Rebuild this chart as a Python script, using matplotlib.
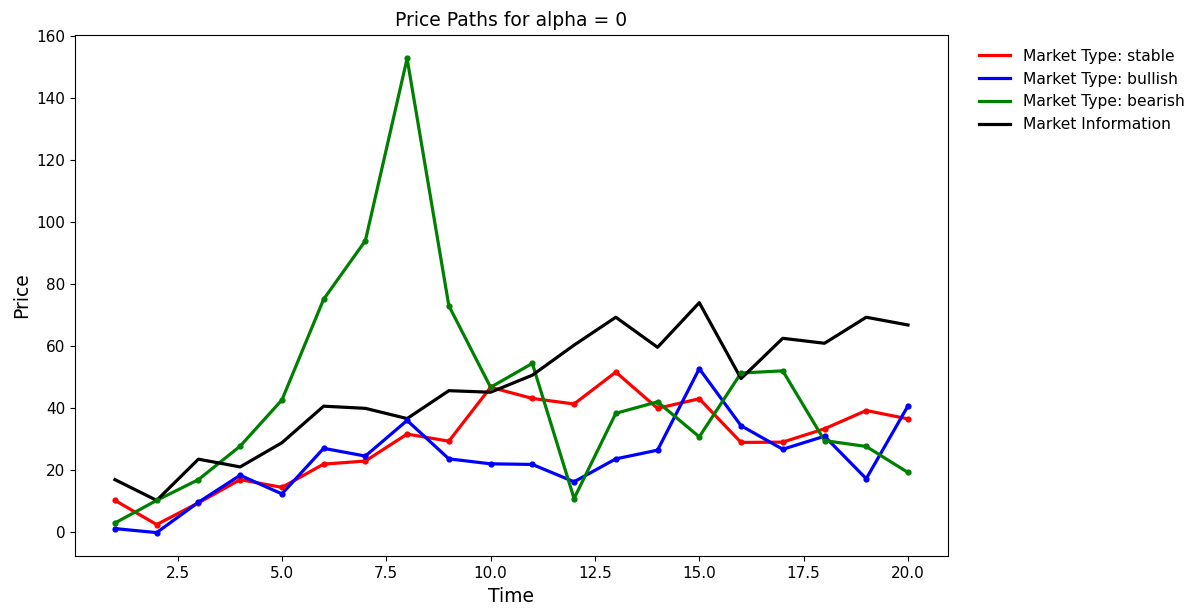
import numpy as np
import matplotlib
matplotlib.use("Agg")
import matplotlib.pyplot as plt

time = list(range(1, 21))

stable = [10.3, 2.5, 9.5, 17.0, 14.5, 22.0, 23.0, 31.7, 29.4, 46.8,
          43.2, 41.4, 51.7, 40.0, 43.1, 29.0, 29.1, 33.4, 39.3, 36.6]
bullish = [1.2, -0.1, 9.7, 18.4, 12.4, 27.1, 24.6, 36.1, 23.7, 22.1,
           21.9, 16.3, 23.7, 26.5, 52.8, 34.4, 26.8, 31.0, 17.3, 40.8]
bearish = [3.0, 10.3, 17.0, 27.8, 42.7, 75.2, 94.1, 152.9, 73.1, 46.8,
           54.5, 10.9, 38.4, 42.1, 30.8, 51.4, 52.1, 29.6, 27.7, 19.3]
market_info = [17.0, 10.3, 23.6, 21.1, 28.9, 40.7, 40.0, 36.7, 45.7, 45.2,
               50.7, 60.4, 69.4, 59.7, 74.1, 49.6, 62.6, 61.0, 69.4, 66.9]

series = [
    ("stable", stable, "red"),
    ("bullish", bullish, "blue"),
    ("bearish", bearish, "green"),
]

fig, ax = plt.subplots(figsize=(11.95, 6.1), dpi=100)

for name, values, color in series:
    ax.plot(time, values, color=color, linewidth=2.3, label=f"Market Type: {name}")
    ax.scatter(time, values, color=color, s=12, zorder=3)

ax.plot(time, market_info, color="black", linewidth=2.3, label="Market Information")

ax.set_title("Price Paths for alpha = 0", fontsize=13.5)
ax.set_xlabel("Time", fontsize=13.5)
ax.set_ylabel("Price", fontsize=13.5)
ax.tick_params(labelsize=11)
ax.legend(loc="upper left", bbox_to_anchor=(1.02, 1), frameon=False, fontsize=11.2)

plt.subplots_adjust(left=0.063, right=0.793, top=0.943, bottom=0.088)
plt.savefig("out.png", dpi=100)
plt.close()
